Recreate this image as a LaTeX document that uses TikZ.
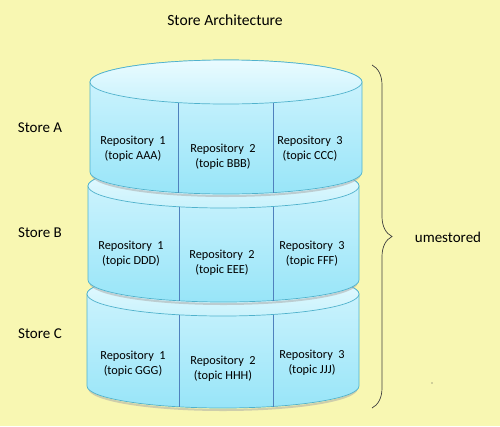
\documentclass[tikz,border=0pt]{standalone}
\usepackage{fontspec}
\setmainfont{Carlito}
\usetikzlibrary{decorations.pathreplacing}

\definecolor{paper}{RGB}{248,247,178}
\definecolor{canrim}{RGB}{80,178,204}
\definecolor{cantop}{RGB}{212,245,254}
\definecolor{canlow}{RGB}{152,229,248}
\definecolor{lidtop}{RGB}{234,251,255}
\definecolor{lidlow}{RGB}{200,242,252}
\definecolor{repoline}{RGB}{79,129,189}

\begin{document}
\begin{tikzpicture}[x=1pt,y=1pt,
	label/.style={font=\fontsize{15}{18}\selectfont},
	repo/.style={align=center,font=\fontsize{12.3}{15}\selectfont},
	canbody/.style={draw=canrim,line width=0.7pt,top color=cantop,bottom color=canlow},
	canlid/.style={draw=canrim,line width=0.7pt,top color=lidtop,bottom color=lidlow},
	canshadow/.style={draw=black!35,line width=2pt,opacity=0.5},
	split/.style={draw=repoline,line width=0.6pt}]

	\useasboundingbox (0,0) rectangle (500,-426);
	\fill[paper] (0,0) rectangle (500,-426);

	\node[label,font=\fontsize{15.6}{18}\selectfont] (title) at (225,-20) {Store Architecture};

	% store C
	\draw[canshadow] (89,-388) arc[start angle=180,end angle=360,x radius=134,y radius=22];
	\path[canbody] (87,-294) -- (87,-386) arc[start angle=180,end angle=360,x radius=136,y radius=22]
		-- (359,-294) arc[start angle=0,end angle=180,x radius=136,y radius=22] -- cycle;
	\path[canlid] (223,-294) ellipse[x radius=136,y radius=22];
	\draw[split] (179,-315) -- (179,-407);
	\draw[split] (273,-315) -- (273,-407);

	% store B
	\draw[canshadow] (90,-282) arc[start angle=180,end angle=360,x radius=133.5,y radius=22];
	\path[canbody] (88,-186) -- (88,-280) arc[start angle=180,end angle=360,x radius=135.5,y radius=22]
		-- (359,-186) arc[start angle=0,end angle=180,x radius=135.5,y radius=22] -- cycle;
	\path[canlid] (223.5,-186) ellipse[x radius=135.5,y radius=22];
	\draw[split] (179,-207) -- (179,-301);
	\draw[split] (273,-207) -- (273,-301);

	% store A
	\draw[canshadow] (92,-174) arc[start angle=180,end angle=360,x radius=134,y radius=22];
	\path[canbody] (90,-82) -- (90,-172) arc[start angle=180,end angle=360,x radius=136,y radius=22]
		-- (362,-82) arc[start angle=0,end angle=180,x radius=136,y radius=22] -- cycle;
	\path[canlid] (226,-82) ellipse[x radius=136,y radius=22];
	\draw[split] (178,-103) -- (178,-193);
	\draw[split] (273,-103) -- (273,-193);

	\node[label] (store-a) at (40,-128) {Store A};
	\node[label] (store-b) at (40,-233) {Store B};
	\node[label] (store-c) at (40,-334) {Store C};

	\node[repo] (repo-a1) at (133,-149) {Repository\ \ 1\\(topic AAA)};
	\node[repo] (repo-a2) at (223,-157) {Repository\ \ 2\\(topic BBB)};
	\node[repo] (repo-a3) at (310,-149) {Repository\ \ 3\\(topic CCC)};

	\node[repo] (repo-b1) at (131,-254) {Repository\ \ 1\\(topic DDD)};
	\node[repo] (repo-b2) at (222,-263) {Repository\ \ 2\\(topic EEE)};
	\node[repo] (repo-b3) at (312,-254) {Repository\ \ 3\\(topic FFF)};

	\node[repo] (repo-c1) at (133,-364) {Repository\ \ 1\\(topic GGG)};
	\node[repo] (repo-c2) at (223,-369) {Repository\ \ 2\\(topic HHH)};
	\node[repo] (repo-c3) at (312,-363) {Repository\ \ 3\\(topic JJJ)};

	\coordinate (brace-top) at (372,-65);
	\coordinate (brace-bottom) at (372,-408);
	\draw[black!75,line width=0.7pt,decorate,decoration={brace,amplitude=20pt}] (brace-top) -- (brace-bottom);
	\node[label] (umestored) at (448,-237) {umestored};

	\fill[black!70] (432,-383) circle (0.7);
\end{tikzpicture}
\end{document}
